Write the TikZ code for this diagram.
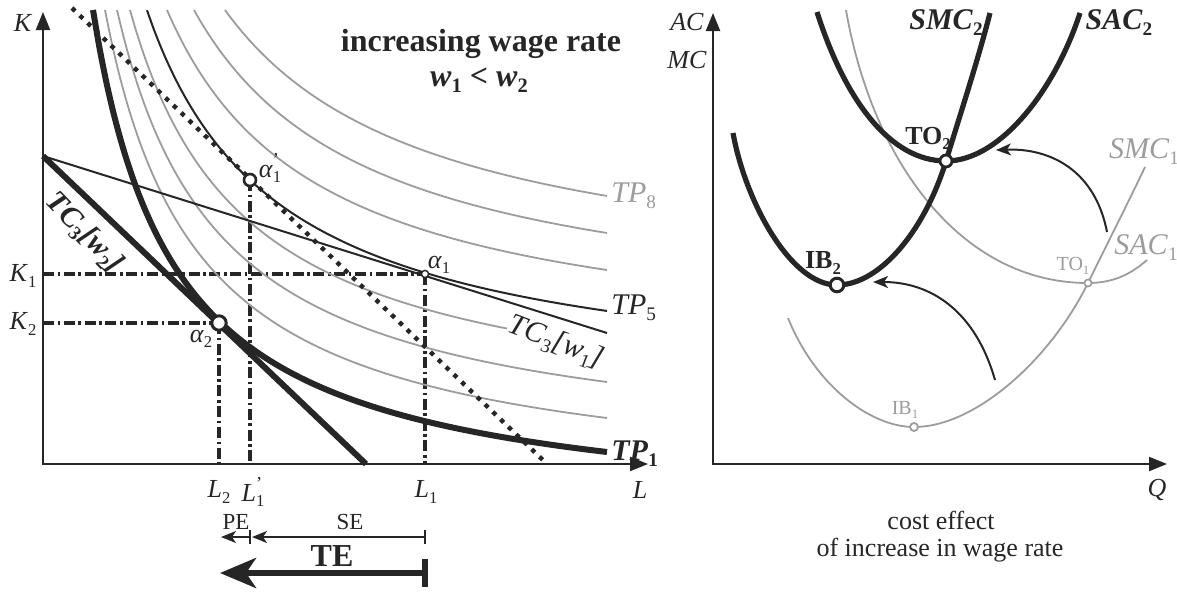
\documentclass[tikz,border=0pt]{standalone}
\usepackage{fontspec}
\setmainfont{Liberation Serif}
\usetikzlibrary{arrows.meta}
\definecolor{ink}{HTML}{262626}
\definecolor{gr}{HTML}{9C9C9C}
\makeatletter
\newcommand\sbs[1]{\raisebox{-0.2em}{\fontsize{\fpeval{0.64*\f@size}}{1}\selectfont\upshape #1}}
\newcommand\prm{\rlap{\raisebox{0.45em}{\fontsize{\fpeval{0.7*\f@size}}{1}\selectfont ’}}}
\makeatother
\tikzset{
  ax/.style={draw=ink, line width=1.1pt, {Triangle[length=9pt,width=7pt]}-{Triangle[length=9pt,width=7pt]}},
  iso/.style={draw=gr, line width=0.9pt},
  blk/.style={draw=ink, line width=1pt},
  thk/.style={draw=ink, line width=3pt},
  ddot/.style={draw=ink, line width=1.6pt, dash pattern=on 5.5pt off 1.8pt on 1.3pt off 1.8pt},
  dotl/.style={draw=ink, line width=2.2pt, dash pattern=on 2.2pt off 3.2pt},
  opn/.style={draw=ink, fill=white},
  f13/.style={font=\fontsize{13}{15}\selectfont},
  f15/.style={font=\fontsize{15}{17}\selectfont},
  f11/.style={font=\fontsize{11.5}{13}\selectfont},
  f10/.style={font=\fontsize{10}{12}\selectfont},
  sarr/.style={draw=ink, line width=1pt, -{Stealth[length=7.5pt,width=6pt,inset=2pt]}},
  carr/.style={draw=ink, line width=1pt, -{Stealth[length=7.5pt,width=6pt,inset=2pt]}},
  ucurve/.style={draw=ink, line width=2.6pt},
  gcurve/.style={draw=gr, line width=0.9pt},
}
\begin{document}
\begin{tikzpicture}[x=0.5pt,y=-0.5pt, every node/.style={inner sep=0pt, text=ink}]
\useasboundingbox (0,0) rectangle (1177,594);

% ---------------- left panel ----------------
\coordinate (Ktop) at (43,12);
\coordinate (O1) at (43,464);
\coordinate (Lend) at (648,464);
\coordinate (V) at (43,156);
\coordinate (a1p) at (250,180);
\coordinate (a1) at (425,274);
\coordinate (a2) at (219,323);
\coordinate (K1) at (43,274);
\coordinate (K2) at (43,323);
\coordinate (L2) at (219,464);
\coordinate (L1p) at (250,464);
\coordinate (L1) at (425,464);
\coordinate (w1end) at (607,333);
\coordinate (w2end) at (366,464);
\coordinate (dS) at (72,8);
\coordinate (dE) at (545,462);

% dash-dot guides
\draw[ddot] (K1) -- (a1);
\draw[ddot] (K2) -- (a2);
\draw[ddot] (a2) -- (L2);
\draw[ddot] (a1p) -- (L1p);
\draw[ddot] (a1) -- (L1);

% gray isoquants
\draw[iso] plot[domain=105:607,samples=70,smooth] (\x,{493.1-446.38/((\x-12.6)/100)});
\draw[iso] plot[domain=117:607,samples=70,smooth] (\x,{460.58-466.35/((\x-13.5)/100)});
\draw[iso] plot[domain=130:507,samples=70,smooth] (\x,{426.1-480.6/((\x-14.5)/100)});
\draw[iso] plot[domain=167:607,samples=70,smooth] (\x,{359-525.59/((\x-16.4)/100)});
\draw[iso] plot[domain=194:607,samples=70,smooth] (\x,{328.4-562.61/((\x-17.3)/100)});
\draw[iso] plot[domain=225:607,samples=70,smooth] (\x,{296.6-592.4/((\x-18.3)/100)});

% TP5 and TP1
\draw[blk] plot[domain=147:607,samples=70,smooth] (\x,{397-509/((\x-15.4)/100)});
\draw[thk] plot[domain=93:607,samples=80,smooth] (\x,{522-416.77/((\x-11.6)/100)});

% isocost lines
\draw[blk] (V) -- (w1end);
\draw[thk] (V) -- (w2end);
\draw[dotl] (dS) -- (dE);

% axes
\draw[ax] (Ktop) -- (O1) -- (Lend);

% points
\draw[opn, line width=1.3pt] (a1p) circle[radius=3pt];
\draw[opn, line width=1.5pt] (a2) circle[radius=3.6pt];
\draw[opn, line width=0.7pt] (a1) circle[radius=1.8pt];

% labels
\node[f13] (lK) at (23,23) {\textit{K}};
\node[f13] (lL) at (640,490) {\textit{L}};
\node[f13] (lK1) at (23,276) {\textit{K}\sbs{1}};
\node[f13] (lK2) at (23,324) {\textit{K}\sbs{2}};
\node[f13] (lL2) at (219,492) {\textit{L}\sbs{2}};
\node[f13] (lL1p) at (253,492) {\textit{L}\prm\sbs{1}};
\node[f13] (lL1) at (426,492) {\textit{L}\sbs{1}};
\node[f13] (la1p) at (270,168) {\textit{α}\prm\sbs{1}};
\node[f13] (la1) at (439,265) {\textit{α}\sbs{1}};
\node[f13] (la2) at (201,339) {\textit{α}\sbs{2}};
\node[f15, text=gr, anchor=west] (lTP8) at (611,196) {\textit{TP}\sbs{8}};
\node[f15, anchor=west] (lTP5) at (611,308) {\textit{TP}\sbs{5}};
\node[f15, anchor=west] (lTP1) at (611,454) {\textbf{\textit{TP}\sbs{1}}};
\node[f15, rotate=-21] (lw1) at (556,343) {\textit{TC}\sbs{3}\textit{[w}\sbs{1}\textit{]}};
\node[f15, rotate=-46] (lw2) at (84,233) {\textbf{\textit{TC}\sbs{3}\textit{[w}\sbs{2}\textit{]}}};
\node[font=\fontsize{16}{18}\selectfont\bfseries] (title) at (481,44) {increasing wage rate};
\node[font=\fontsize{16}{18}\selectfont\bfseries] (title2) at (479,80) {\textit{w}\sbs{1} < \textit{w}\sbs{2}};

% effects
\coordinate (peS) at (250,537);
\coordinate (peE) at (221,537);
\coordinate (seS) at (425,537);
\coordinate (seE) at (252,537);
\coordinate (teS) at (425,573);
\coordinate (teE) at (220,573);
\draw[sarr] (peS) -- (peE);
\draw[sarr] (seS) -- (seE);
\draw[draw=ink, line width=1pt] (250,530) -- (250,544);
\draw[draw=ink, line width=1pt] (425,530) -- (425,544);
\draw[draw=ink, line width=3pt, -{Stealth[length=18pt,width=15pt,inset=5pt]}] (teS) -- (teE);
\draw[draw=ink, line width=2.6pt] (425,559) -- (425,587);
\node[f11] (lPE) at (236,522) {PE};
\node[f11] (lSE) at (350,522) {SE};
\node[font=\fontsize{16}{18}\selectfont\bfseries] (lTE) at (332,556) {TE};

% ---------------- right panel ----------------
\coordinate (Ctop) at (713,13);
\coordinate (O2) at (713,464);
\coordinate (Qend) at (1167,464);
\coordinate (TO2) at (946,161);
\coordinate (IB2) at (837,285);
\coordinate (TO1) at (1088,283);
\coordinate (IB1) at (914,427);

% gray curves
\draw[gcurve] (846,10) .. controls (872,160) and (960,283) .. (TO1) .. controls (1115,283) and (1132,273) .. (1147,260);
\draw[gcurve] (788,318) .. controls (815,385) and (870,427) .. (IB1) .. controls (975,427) and (1050,360) .. (TO1) .. controls (1107,244) and (1127,205) .. (1145,167);

% black curves
\draw[ucurve] (817,12) .. controls (845,100) and (890,161) .. (TO2) .. controls (1000,161) and (1055,90) .. (1080,13);
\draw[ucurve] (733,133) .. controls (745,200) and (790,285) .. (IB2) .. controls (880,285) and (925,230) .. (TO2) .. controls (960,115) and (978,60) .. (990,13);

% arrows
\coordinate (ar1s) at (1107,232);
\coordinate (ar1e) at (996,150);
\coordinate (ar2s) at (995,380);
\coordinate (ar2e) at (873,282);
\draw[carr] (ar1s) .. controls (1095,170) and (1050,148) .. (ar1e);
\draw[carr] (ar2s) .. controls (975,310) and (930,282) .. (ar2e);

\draw[ax] (Ctop) -- (O2) -- (Qend);

\draw[opn, line width=1.4pt] (TO2) circle[radius=3pt];
\draw[opn, line width=1.5pt] (IB2) circle[radius=3.4pt];
\draw[draw=gr, fill=white, line width=0.8pt] (TO1) circle[radius=1.8pt];
\draw[draw=gr, fill=white, line width=0.9pt] (IB1) circle[radius=2pt];

\node[f13] (lAC) at (687,22) {\textit{AC}};
\node[f13] (lMC) at (687,60) {\textit{MC}};
\node[f13] (lQ) at (1157,490) {\textit{Q}};
\node[f15] (lSMC2) at (946,23) {\textbf{\textit{SMC}\sbs{2}}};
\node[f15] (lSAC2) at (1119,23) {\textbf{\textit{SAC}\sbs{2}}};
\node[f15, text=gr] (lSMC1) at (1144,152) {\textit{SMC}\sbs{1}};
\node[f15, text=gr] (lSAC1) at (1146,248) {\textit{SAC}\sbs{1}};
\node[font=\fontsize{13}{15}\selectfont\bfseries] (lTO2) at (928,138) {TO\sbs{2}};
\node[font=\fontsize{13}{15}\selectfont\bfseries] (lIB2) at (823,263) {IB\sbs{2}};
\node[f10, text=gr] (lTO1) at (1073,266) {TO\sbs{1}};
\node[f10, text=gr] (lIB1) at (905,410) {IB\sbs{1}};
\node[f13] (cap1) at (941,520) {cost effect};
\node[f13] (cap2) at (940,550) {of increase in wage rate};
\end{tikzpicture}
\end{document}
